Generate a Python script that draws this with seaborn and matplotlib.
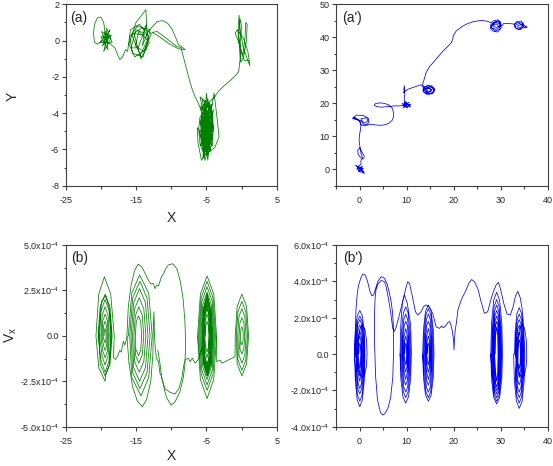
import numpy as np
import pandas as pd
import matplotlib
matplotlib.use("Agg")
import matplotlib.pyplot as plt
import seaborn as sns
from matplotlib.ticker import FixedLocator

# ---------------- data ----------------
# panel (a): X-Y trajectory, green
a_cluster1 = [(-19.5, 0.0), (-18.7, 0.6), (-19.8, -0.3), (-18.5, 0.3), (-20.0, 0.2), (-19.0, -0.5),
              (-19.2, 0.7), (-18.4, -0.1), (-20.1, -0.1), (-19.0, 0.4), (-19.6, -0.6), (-18.6, 0.1),
              (-19.9, 0.5), (-19.3, -0.2), (-18.9, 0.2), (-19.4, 0.5), (-19.7, 0.1), (-19.3, 0.2),
              (-19.6, 1.0), (-20.0, 1.3), (-20.5, 1.25), (-20.9, 0.9), (-21.05, 0.4), (-20.9, -0.1),
              (-20.5, -0.2), (-19.8, 0.0), (-19.1, -0.1), (-18.6, -0.2), (-18.0, -0.4), (-17.6, -0.8),
              (-17.3, -1.05), (-16.9, -0.9), (-16.5, -0.5), (-16.2, -0.6)]
a_cluster2 = [(-15.8, 0.6), (-14.5, 0.9), (-13.2, 0.2), (-14.0, -0.9), (-15.5, -0.7), (-15.9, 0.2),
              (-14.8, 0.8), (-13.0, 0.6), (-13.6, -0.5), (-15.2, -0.9), (-16.0, -0.2), (-15.0, 1.0),
              (-13.6, 1.7), (-13.4, 0.0), (-14.4, -0.8), (-15.6, 0.3), (-14.2, 0.7), (-12.8, 0.4),
              (-13.9, -0.6), (-15.1, -0.3), (-14.6, 0.5), (-13.1, -0.1), (-14.3, -1.0), (-15.3, 0.4),
              (-14.0, 0.3), (-13.5, 0.9), (-14.7, -0.4), (-15.7, -0.4), (-15.0, 0.6), (-13.8, 0.4),
              (-14.1, -0.3), (-13.3, 0.5)]
a_arc = [(-12.6, 0.8), (-12.0, 1.05), (-11.2, 1.1), (-10.5, 0.95), (-9.9, 0.65), (-9.4, 0.2),
         (-9.0, -0.2), (-8.0, -0.5), (-9.0, -0.45), (-10.4, -0.15), (-11.8, 0.25), (-12.7, 0.45),
         (-12.0, 0.5), (-10.6, 0.1), (-9.3, -0.3), (-8.6, -0.4), (-8.2, -1.0), (-7.8, -1.6),
         (-7.4, -2.2), (-7.0, -2.7), (-6.6, -3.1), (-6.2, -3.4), (-5.9, -3.7)]
a_cluster3 = [(-5.6, -4.0), (-4.6, -6.0), (-5.2, -3.3), (-4.3, -5.5), (-5.8, -5.8), (-4.8, -3.2),
              (-4.0, -4.8), (-5.5, -6.5), (-5.0, -3.6), (-4.4, -6.1), (-5.9, -4.5), (-4.2, -3.5),
              (-5.3, -6.2), (-4.7, -4.0), (-5.6, -5.2), (-4.1, -5.8), (-5.0, -2.9), (-5.4, -5.6),
              (-4.5, -4.3), (-5.8, -3.6), (-4.8, -6.6), (-4.3, -4.6), (-5.2, -4.2), (-4.9, -5.4),
              (-6.3, -4.8), (-6.2, -5.6), (-5.7, -6.6), (-5.2, -6.3), (-3.8, -5.9), (-3.2, -5.3),
              (-3.5, -4.2), (-3.9, -2.9), (-4.3, -3.8), (-5.9, -3.1), (-5.4, -4.0),
              (-5.9, -4.2), (-6.1, -4.9), (-5.9, -5.7), (-5.4, -6.2), (-4.8, -6.3), (-4.3, -5.8),
              (-4.0, -5.0), (-4.1, -4.1), (-4.5, -3.5), (-5.1, -3.3), (-5.6, -3.7), (-5.8, -4.5),
              (-5.6, -5.4), (-5.1, -5.9), (-4.5, -5.7), (-4.2, -4.9), (-4.3, -4.0), (-4.8, -3.6),
              (-5.4, -3.9), (-5.7, -4.7), (-5.5, -5.6), (-4.9, -6.1), (-4.4, -5.5), (-4.15, -4.6),
              (-4.4, -3.8), (-5.0, -3.5), (-5.5, -4.1), (-5.6, -5.0), (-5.2, -5.7), (-4.6, -5.8),
              (-4.2, -5.3), (-4.2, -4.4), (-4.7, -3.7), (-5.3, -3.7), (-5.7, -4.3), (-5.8, -5.2),
              (-5.3, -6.0), (-4.7, -6.0), (-4.3, -5.2),
              (-5.5, -4.6), (-4.6, -5.0), (-5.1, -3.8), (-4.2, -5.2), (-5.7, -5.4), (-4.9, -6.3),
              (-4.0, -3.8), (-5.3, -4.8), (-4.7, -5.7), (-5.6, -3.2), (-4.5, -3.7), (-5.0, -5.0),
              (-6.0, -5.0), (-5.2, -6.6), (-4.4, -5.4), (-5.3, -3.5), (-4.8, -4.5), (-5.4, -5.2),
              (-4.6, -4.2), (-5.1, -5.8), (-4.9, -3.9), (-5.2, -5.1), (-4.5, -4.9), (-5.5, -4.2),
              (-4.7, -5.3), (-5.0, -4.4), (-5.3, -5.5), (-4.6, -4.6), (-5.1, -4.0), (-4.8, -5.9),
              (-5.4, -4.4), (-4.4, -5.0), (-5.2, -3.9), (-4.9, -5.6), (-5.6, -4.8), (-4.3, -4.1),
              (-5.0, -6.0), (-4.6, -3.4), (-3.8, -3.1), (-3.3, -2.8)]
a_flower = [(-2.5, -2.5), (-1.6, -2.2), (-0.8, -1.9), (-0.4, -1.7), (-0.2, -1.0), (-0.3, -0.3),
            (-0.5, 0.5), (-0.35, 1.4), (-0.2, 0.6), (0.2, -0.3), (0.8, -1.0), (1.2, -1.4),
            (0.9, -0.6), (0.3, 0.1), (-0.6, 0.6), (-0.9, 0.4), (-0.4, -0.1), (0.2, -0.8),
            (0.5, 0.2), (0.6, 1.0), (0.8, 0.9), (0.7, 0.0), (0.3, -0.9), (-0.1, -1.2),
            (-0.2, -0.2), (0.0, 0.8), (-0.2, 1.2), (-0.4, 0.3), (-0.1, -0.6), (0.4, -1.1), (1.0, -1.1)]

# panel (a'): X-Y trajectory, blue
ap_start = [(0.0, 0.3), (-0.8, 1.2), (0.5, -0.5), (-0.5, 0.8), (0.8, 0.2), (-0.3, -0.6), (0.9, -1.1),
            (0.2, 0.6), (-0.6, 0.0), (0.6, 0.9), (0.0, -0.8), (-0.4, 0.4), (0.4, -0.2), (1.0, -1.2),
            (0.1, 0.2), (-0.2, 1.0), (0.3, 1.5), (0.3, 2.8), (0.9, 3.4), (1.0, 4.0), (0.5, 5.2),
            (0.0, 6.5), (-0.4, 5.6), (-0.3, 4.5), (0.2, 3.5), (0.6, 3.3), (0.3, 5.0), (0.0, 7.5),
            (-0.1, 9.0), (0.0, 10.5), (0.2, 12.0), (0.3, 13.5), (0.1, 14.5)]
ap_loops = [(-0.5, 15.0), (-1.4, 15.6), (-0.6, 16.4), (0.8, 16.3), (1.9, 15.4), (2.0, 14.2),
            (1.2, 13.1), (0.2, 13.5), (0.0, 14.8), (-1.0, 15.7), (-1.5, 15.4), (0.5, 14.6),
            (1.0, 14.0), (1.8, 14.5), (1.5, 15.6), (0.3, 15.3), (0.8, 13.6), (1.6, 13.4),
            (2.5, 13.6), (3.5, 13.4), (4.5, 13.3), (5.5, 13.5), (6.3, 14.0), (6.9, 14.8),
            (7.2, 15.8), (7.2, 17.3), (6.9, 18.6), (6.2, 19.5), (5.2, 20.0), (4.2, 20.1),
            (3.4, 19.9), (3.1, 19.4), (3.6, 19.0), (4.6, 18.8), (6.0, 19.0), (7.5, 19.2),
            (8.6, 19.2), (9.3, 19.4)]
ap_star = [(10.5, 20.3), (9.2, 18.6), (10.9, 19.6), (9.0, 19.9), (10.2, 18.5), (9.6, 20.6),
           (10.8, 18.9), (9.3, 19.2), (10.0, 20.1), (9.8, 19.0), (9.6, 19.8), (9.5, 21.0),
           (9.6, 22.6), (9.4, 24.3), (9.5, 25.3), (9.6, 23.8), (9.3, 23.2), (10.2, 24.2),
           (11.0, 24.6), (12.0, 25.1), (13.0, 25.6), (13.6, 25.2), (14.0, 24.4)]
ap_circle = [(15.2, 25.0), (15.9, 24.0), (15.4, 22.9), (14.3, 22.7), (13.5, 23.5), (13.6, 24.8),
             (14.6, 25.4), (15.6, 24.6), (15.8, 23.4), (14.8, 22.8), (13.8, 23.2), (13.4, 24.2),
             (14.2, 25.2), (15.3, 25.3), (16.0, 24.3), (15.5, 23.1), (14.4, 23.0), (13.7, 24.0),
             (14.3, 24.8), (15.2, 24.3), (14.9, 23.5), (14.1, 23.8), (14.6, 24.6), (15.4, 23.9),
             (14.5, 23.2), (13.8, 24.5), (13.4, 25.0)]
ap_rise = [(13.4, 25.8), (13.6, 26.7), (14.1, 29.2), (14.8, 31.0), (15.6, 32.3), (16.6, 34.0),
           (17.7, 35.8), (18.7, 37.2), (19.45, 38.3), (19.8, 39.5), (19.9, 40.4), (20.5, 41.9),
           (21.9, 43.4), (23.0, 44.2), (24.1, 44.7), (25.2, 45.0), (26.2, 45.1), (27.2, 44.8),
           (28.0, 44.4)]
ap_end = [(28.4, 45.0), (29.4, 45.3), (30.0, 44.5), (29.8, 43.2), (29.0, 42.4), (28.0, 42.8),
          (27.8, 43.8), (28.6, 44.6), (29.6, 44.2), (30.1, 43.0), (29.3, 41.6), (28.3, 41.9),
          (27.7, 42.8), (28.2, 43.9), (29.2, 44.0), (29.9, 42.5), (28.8, 41.9), (28.0, 43.0),
          (28.5, 44.4), (29.5, 45.0), (30.0, 43.6), (29.0, 43.0), (28.3, 43.5), (28.9, 44.8),
          (29.8, 44.6), (30.2, 43.4), (30.6, 44.2), (31.5, 44.2), (32.3, 44.1), (32.9, 44.0),
          (33.4, 44.8), (34.3, 44.9), (34.8, 44.1), (34.6, 43.0), (33.8, 42.4), (33.0, 42.9),
          (32.8, 43.9), (33.6, 44.5), (34.5, 44.3), (34.9, 43.4), (34.2, 42.3), (33.3, 42.6),
          (33.0, 43.6), (33.9, 44.2), (34.6, 43.6), (34.0, 42.8), (33.5, 43.3), (34.2, 43.9),
          (35.0, 43.6), (35.6, 43.0), (34.8, 42.8), (35.3, 43.3)]

# panel (b): X - Vx (Vx in units of 1e-4), green
b_well1 = [(-19.55, 0), (-19.5, 0.28), (-19.4, 0.4), (-19.3, 0.28), (-19.25, 0), (-19.3, -0.28), (-19.4, -0.4), (-19.5, -0.28),
           (-19.7, 0), (-19.61, 0.56), (-19.4, 0.8), (-19.19, 0.56), (-19.1, 0), (-19.19, -0.56), (-19.4, -0.8), (-19.61, -0.56),
           (-19.85, 0), (-19.72, 0.84), (-19.4, 1.2), (-19.08, 0.84), (-18.95, 0), (-19.08, -0.84), (-19.4, -1.2), (-19.72, -0.84),
           (-20.0, 0), (-19.82, 1.12), (-19.4, 1.6), (-18.98, 1.12), (-18.8, 0), (-18.98, -1.12), (-19.4, -1.6), (-19.82, -1.12),
           (-20.2, 0), (-19.96, 1.4), (-19.4, 2.0), (-18.84, 1.4), (-18.6, 0), (-18.84, -1.4), (-19.4, -2.0), (-19.96, -1.4),
           (-20.4, 0), (-20.1, 1.6), (-19.4, 2.3), (-18.7, 1.6), (-18.4, 0), (-18.7, -1.55), (-19.4, -2.2), (-20.1, -1.55),
           (-20.3, 0.2), (-19.9, 1.9), (-19.3, 2.2), (-18.8, 1.5), (-18.5, 0.1), (-18.8, -1.6), (-19.3, -2.1),
           (-19.4, -2.5), (-20.3, -1.75), (-20.7, 0), (-20.3, 2.3), (-19.5, 3.25), (-18.6, 2.3), (-18.1, 0),
           (-18.2, -1.2), (-17.9, -1.3), (-17.6, -1.1), (-17.3, -0.8), (-17.1, -0.9), (-16.8, -0.3),
           (-16.6, -0.5), (-16.3, -0.1)]
b_well2 = [(-16.1, 0), (-15.6, 2.35), (-14.5, 3.35), (-13.2, 2.35), (-12.7, 0), (-13.2, -2.3), (-14.3, -3.3), (-15.6, -2.3),
           (-15.9, 0), (-15.47, 2.1), (-14.45, 3.0), (-13.44, 2.1), (-13.0, 0), (-13.44, -2.03), (-14.45, -2.9), (-15.47, -2.03),
           (-15.7, 0), (-15.34, 1.82), (-14.5, 2.6), (-13.66, 1.82), (-13.3, 0), (-13.66, -1.75), (-14.5, -2.5), (-15.34, -1.75),
           (-15.5, 0), (-15.22, 1.47), (-14.55, 2.1), (-13.89, 1.47), (-13.6, 0), (-13.89, -1.4), (-14.55, -2.0), (-15.22, -1.4),
           (-15.3, 0), (-15.09, 1.12), (-14.6, 1.6), (-14.11, 1.12), (-13.9, 0), (-14.11, -1.05), (-14.6, -1.5), (-15.09, -1.05),
           (-15.1, 0), (-14.97, 0.77), (-14.65, 1.1), (-14.33, 0.77), (-14.2, 0), (-14.33, -0.77), (-14.65, -1.1), (-14.97, -0.77)]
b_big = [(-16.0, -1.5), (-16.3, 0.0), (-16.1, 1.6), (-15.7, 2.8), (-15.2, 3.6), (-14.7, 3.95), (-14.2, 3.8),
         (-13.7, 3.44), (-13.3, 3.1), (-12.9, 2.85), (-12.54, 2.89), (-12.3, 2.6), (-12.07, 2.8), (-11.8, 2.75),
         (-11.6, 3.0), (-11.37, 3.26), (-11.1, 3.4), (-10.9, 3.62), (-10.4, 3.9), (-9.8, 3.97), (-9.2, 3.7),
         (-8.7, 3.0), (-8.3, 2.0), (-8.05, 0.8), (-7.95, -0.4), (-8.05, -1.6), (-8.3, -2.34), (-8.75, -3.07),
         (-9.45, -3.63), (-10.0, -3.81), (-10.6, -3.44), (-10.9, -3.07), (-11.1, -2.7), (-11.35, -2.25),
         (-11.6, -2.07), (-11.8, -1.42), (-12.1, -1.24), (-12.3, -0.5), (-12.4, 0.23), (-12.45, 1.33),
         (-12.55, 0.5), (-12.6, -1.0), (-12.9, -2.5), (-13.5, -3.5), (-14.1, -3.9), (-14.8, -3.6),
         (-15.5, -2.8), (-16.0, -1.5)]
b_right = [(-11.9, -0.8), (-11.6, -1.5), (-11.35, -2.34), (-10.9, -2.9), (-10.2, -3.1), (-9.45, -3.2),
           (-8.9, -2.9), (-8.5, -2.34), (-8.2, -1.6), (-8.0, -1.3), (-7.57, -1.24), (-7.3, -1.42),
           (-7.0, -1.24), (-6.6, -1.5), (-6.2, -1.33), (-5.95, -1.06),
           (-5.15, 0), (-5.08, 0.56), (-4.9, 0.8), (-4.73, 0.56), (-4.65, 0), (-4.73, -0.63), (-4.9, -0.9), (-5.08, -0.63),
           (-5.25, 0), (-5.15, 0.84), (-4.9, 1.2), (-4.66, 0.84), (-4.55, 0), (-4.66, -0.84), (-4.9, -1.2), (-5.15, -0.84),
           (-5.35, 0), (-5.22, 1.05), (-4.9, 1.5), (-4.59, 1.05), (-4.45, 0), (-4.59, -1.12), (-4.9, -1.6), (-5.22, -1.12),
           (-5.32, 0), (-5.2, 1.19), (-4.92, 1.7), (-4.64, 1.19), (-4.52, 0), (-4.64, -1.19), (-4.92, -1.7), (-5.2, -1.19),
           (-5.45, 0), (-5.29, 1.26), (-4.9, 1.8), (-4.52, 1.26), (-4.35, 0), (-4.52, -1.26), (-4.9, -1.8), (-5.29, -1.26),
           (-5.4, 0), (-5.25, 1.61), (-4.9, 2.3), (-4.55, 1.61), (-4.4, 0), (-4.55, -1.33), (-4.9, -1.9), (-5.25, -1.33),
           (-5.55, 0.1), (-5.37, 1.47), (-4.95, 2.1), (-4.53, 1.47), (-4.35, 0.1), (-4.53, -1.4), (-4.95, -2.0), (-5.37, -1.4),
           (-5.55, 0), (-5.36, 1.4), (-4.9, 2.0), (-4.45, 1.4), (-4.25, 0), (-4.45, -1.47), (-4.9, -2.1), (-5.36, -1.47),
           (-5.55, -0.1), (-5.34, 1.33), (-4.85, 1.9), (-4.36, 1.33), (-4.15, -0.1), (-4.36, -1.54), (-4.85, -2.2), (-5.34, -1.54),
           (-5.65, 0), (-5.43, 1.54), (-4.9, 2.2), (-4.38, 1.54), (-4.15, 0), (-4.38, -1.54), (-4.9, -2.2), (-5.43, -1.54),
           (-5.8, 0), (-5.53, 1.68), (-4.9, 2.4), (-4.27, 1.68), (-4.0, 0), (-4.27, -1.68), (-4.9, -2.4), (-5.53, -1.68),
           (-5.95, 0), (-5.64, 1.89), (-4.9, 2.7), (-4.17, 1.89), (-3.85, 0), (-4.17, -1.89), (-4.9, -2.7), (-5.64, -1.89),
           (-6.1, 0), (-5.74, 2.1), (-4.9, 3.0), (-4.06, 2.1), (-3.7, 0), (-4.06, -2.1), (-4.9, -3.0), (-5.74, -2.1),
           (-6.25, 0), (-5.85, 2.3), (-4.9, 3.3), (-3.95, 2.3), (-3.55, 0), (-3.53, -1.42),
           (-3.06, -1.33), (-2.8, -1.5), (-2.35, -1.42), (-1.9, -1.33), (-1.4, -1.24), (-0.93, -1.15),
           (-0.9, 0), (-0.62, 1.61), (0.05, 2.3), (0.72, 1.61), (1.0, 0), (0.72, -1.54), (0.05, -2.2), (-0.62, -1.54),
           (-0.75, 0), (-0.51, 1.33), (0.05, 1.9), (0.61, 1.33), (0.85, 0), (0.61, -1.33), (0.05, -1.9), (-0.51, -1.33),
           (-0.55, 0), (-0.37, 1.05), (0.05, 1.5), (0.47, 1.05), (0.65, 0), (0.47, -1.05), (0.05, -1.5), (-0.37, -1.05),
           (-0.35, 0), (-0.23, 0.7), (0.05, 1.0), (0.33, 0.7), (0.45, 0), (0.33, -0.7), (0.05, -1.0), (-0.23, -0.7),
           (-0.15, 0), (-0.09, 0.35), (0.05, 0.5), (0.19, 0.35), (0.25, 0), (0.19, -0.35), (0.05, -0.5), (-0.09, -0.35)]
b_outer4 = [(-3.55, 0), (-3.95, -2.4), (-4.9, -3.45), (-5.85, -2.4), (-6.25, 0)]

# panel (b'): X - Vx (Vx in units of 1e-4), blue
bp_main = [(-0.15, 0), (-0.09, 0.42), (0.05, 0.6), (0.19, 0.42), (0.25, 0), (0.19, -0.56), (0.05, -0.8), (-0.09, -0.56),
           (-0.3, 0), (-0.2, 0.7), (0.05, 1.0), (0.3, 0.7), (0.4, 0), (0.3, -0.84), (0.05, -1.2), (-0.2, -0.84),
           (-0.45, 0), (-0.3, 0.91), (0.05, 1.3), (0.4, 0.91), (0.55, 0), (0.4, -1.05), (0.05, -1.5), (-0.3, -1.05),
           (-0.6, 0), (-0.52, 0.8), (-0.28, 1.39), (0.05, 1.6), (0.38, 1.39), (0.62, 0.8), (0.7, 0), (0.62, -0.95), (0.38, -1.65), (0.05, -1.9), (-0.28, -1.65), (-0.52, -0.95),
           (-0.75, 0), (-0.65, 0.95), (-0.35, 1.65), (0.05, 1.9), (0.45, 1.65), (0.75, 0.95), (0.85, 0), (0.75, -1.1), (0.45, -1.91), (0.05, -2.2), (-0.35, -1.91), (-0.65, -1.1),
           (-0.4, 0), (-0.27, 0.8), (0.1, 1.39), (0.6, 1.6), (1.1, 1.39), (1.47, 0.8), (1.6, 0), (1.47, -0.65), (1.1, -1.13), (0.6, -1.3), (0.1, -1.13), (-0.27, -0.65),
           (-0.9, 0), (-0.78, 1.05), (-0.43, 1.83), (0.05, 2.1), (0.53, 1.83), (0.88, 1.05), (1.0, 0), (0.88, -1.3), (0.53, -2.26), (0.05, -2.6), (-0.43, -2.26), (-0.78, -1.3),
           (-1.05, 0), (-0.91, 1.2), (-0.5, 2.09), (0.05, 2.4), (0.6, 2.09), (1.01, 1.2), (1.15, 0), (1.01, -1.45), (0.6, -2.52), (0.05, -2.9), (-0.5, -2.52), (-0.91, -1.45), (-1.05, 0),
           (-0.75, 2.5), (-0.5, 3.3), (-0.2, 3.8), (0.3, 4.2), (0.7, 4.4), (1.2, 4.35), (1.7, 4.0), (2.2, 3.45),
           (2.6, 3.2), (3.0, 3.25), (3.4, 3.6), (3.9, 4.0), (4.6, 4.26), (5.3, 4.17), (5.8, 3.9), (6.3, 3.4),
           (6.7, 2.9), (7.0, 2.3), (7.2, 1.4), (7.2, 0.0), (7.05, -1.3), (6.6, -2.4), (6.0, -3.0), (5.3, -3.3),
           (4.9, -3.36), (4.4, -3.2), (3.8, -2.5), (3.4, -1.2), (3.2, 0.5), (3.15, 2.0), (3.3, 3.1), (3.5, 3.55),
           (3.9, 3.85), (4.6, 4.05), (5.3, 3.98), (5.65, 3.7), (6.1, 3.1), (6.6, 2.3), (7.05, 1.4), (7.4, 1.25),
           (7.8, 1.5), (8.5, 2.2), (9.2, 2.95), (9.8, 3.6), (10.2, 3.98), (10.6, 3.89), (11.15, 3.25), (11.86, 2.33),
           (12.36, 2.15), (13.07, 2.33), (13.57, 2.6), (14.1, 2.7), (14.7, 2.6), (15.2, 2.42), (15.55, 2.2),
           (15.9, 1.87), (16.26, 1.5), (16.97, 1.41), (17.4, 1.55), (17.7, 1.45), (18.1, 1.5), (18.4, 1.6),
           (18.8, 1.75), (19.1, 1.78), (19.4, 1.6), (19.66, 1.32), (19.95, 0.77), (20.05, 0.22), (20.15, 0.8),
           (20.3, 1.3), (20.6, 1.8), (20.87, 2.42), (21.57, 2.97), (22.6, 3.52), (23.2, 3.9), (23.8, 4.1),
           (24.4, 3.98), (25.1, 3.6), (25.8, 2.88), (26.5, 2.24), (27.2, 2.33), (27.95, 3.06), (28.5, 3.5),
           (29.0, 3.8), (29.5, 3.95), (30.0, 3.5), (30.6, 2.8), (31.3, 2.2), (32.0, 2.15), (32.6, 2.6),
           (33.1, 3.2), (33.6, 3.45), (34.1, 3.1), (34.5, 2.5), (34.8, 1.6), (35.0, 0.5), (35.1, 0),
           (34.94, -1.5), (34.5, -2.6), (33.9, -2.99), (33.3, -2.6), (32.86, -1.5), (32.7, 0),
           (32.9, 0), (33.03, 1.28), (33.4, 2.22), (33.9, 2.55), (34.4, 2.22), (34.77, 1.28), (34.9, 0), (34.77, -1.35), (34.4, -2.35), (33.9, -2.7), (33.4, -2.35), (33.03, -1.35),
           (33.5, 0), (33.63, 0.83), (34.0, 1.44), (34.5, 1.65), (35.0, 1.44), (35.37, 0.83), (35.5, 0), (35.37, -0.65), (35.0, -1.13), (34.5, -1.3), (34.0, -1.13), (33.63, -0.65),
           (33.05, 0), (33.16, 1.1), (33.47, 1.91), (33.9, 2.2), (34.33, 1.91), (34.64, 1.1), (34.75, 0), (34.64, -1.2), (34.33, -2.09), (33.9, -2.4), (33.47, -2.09), (33.16, -1.2),
           (33.2, 0), (33.29, 0.95), (33.55, 1.65), (33.9, 1.9), (34.25, 1.65), (34.51, 0.95), (34.6, 0), (34.51, -1.05), (34.25, -1.83), (33.9, -2.1), (33.55, -1.83), (33.29, -1.05),
           (33.35, 0), (33.42, 0.8), (33.62, 1.39), (33.9, 1.6), (34.18, 1.39), (34.38, 0.8), (34.45, 0), (34.38, -0.85), (34.18, -1.48), (33.9, -1.7), (33.62, -1.48), (33.42, -0.85),
           (33.5, 0), (33.62, 0.84), (33.9, 1.2), (34.18, 0.84), (34.3, 0), (34.18, -0.91), (33.9, -1.3), (33.62, -0.91),
           (33.65, 0), (33.73, 0.56), (33.9, 0.8), (34.08, 0.56), (34.15, 0), (34.08, -0.56), (33.9, -0.8), (33.73, -0.56)]
bp_well2 = [(9.6, 0), (9.66, 0.42), (9.8, 0.6), (9.94, 0.42), (10.0, 0), (9.94, -0.42), (9.8, -0.6), (9.66, -0.42),
            (9.45, 0), (9.56, 0.7), (9.8, 1.0), (10.05, 0.7), (10.15, 0), (10.05, -0.7), (9.8, -1.0), (9.56, -0.7),
            (9.3, 0), (9.45, 0.98), (9.8, 1.4), (10.15, 0.98), (10.3, 0), (10.15, -0.98), (9.8, -1.4), (9.45, -0.98),
            (9.15, 0), (9.23, 0.9), (9.47, 1.57), (9.8, 1.8), (10.13, 1.57), (10.37, 0.9), (10.45, 0), (10.37, -0.85), (10.13, -1.48), (9.8, -1.7), (9.47, -1.48), (9.23, -0.85),
            (9.0, 0), (9.1, 1.1), (9.4, 1.91), (9.8, 2.2), (10.2, 1.91), (10.5, 1.1), (10.6, 0), (10.5, -1.05), (10.2, -1.83), (9.8, -2.1), (9.4, -1.83), (9.1, -1.05),
            (8.8, 0), (8.93, 1.3), (9.3, 2.26), (9.8, 2.6), (10.3, 2.26), (10.67, 1.3), (10.8, 0), (10.67, -1.2), (10.3, -2.09), (9.8, -2.4), (9.3, -2.09), (8.93, -1.2),
            (8.6, 0), (8.76, 1.63), (9.1, 2.83), (9.5, 3.25), (10.1, 2.83), (10.84, 1.63), (11.0, 0), (10.84, -1.35), (10.4, -2.35), (9.8, -2.7), (9.2, -2.35), (8.76, -1.35), (8.6, 0)]
bp_well3 = [(14.4, 0), (14.46, 0.42), (14.6, 0.6), (14.74, 0.42), (14.8, 0), (14.74, -0.42), (14.6, -0.6), (14.46, -0.42),
            (14.25, 0), (14.36, 0.7), (14.6, 1.0), (14.85, 0.7), (14.95, 0), (14.85, -0.7), (14.6, -1.0), (14.36, -0.7),
            (14.1, 0), (14.25, 0.98), (14.6, 1.4), (14.95, 0.98), (15.1, 0), (14.95, -0.98), (14.6, -1.4), (14.25, -0.98),
            (13.95, 0), (14.03, 0.9), (14.27, 1.57), (14.6, 1.8), (14.93, 1.57), (15.17, 0.9), (15.25, 0), (15.17, -0.85), (14.93, -1.48), (14.6, -1.7), (14.27, -1.48), (14.03, -0.85),
            (13.8, 0), (13.9, 1.1), (14.2, 1.91), (14.6, 2.2), (15.0, 1.91), (15.3, 1.1), (15.4, 0), (15.3, -1.05), (15.0, -1.83), (14.6, -2.1), (14.2, -1.83), (13.9, -1.05),
            (13.6, 0), (13.73, 1.25), (14.1, 2.18), (14.6, 2.5), (15.1, 2.18), (15.47, 1.25), (15.6, 0), (15.47, -1.2), (15.1, -2.09), (14.6, -2.4), (14.1, -2.09), (13.73, -1.2),
            (13.4, 0), (13.56, 1.35), (14.0, 2.35), (14.6, 2.7), (15.2, 2.35), (15.64, 1.35), (15.8, 0), (15.64, -1.3), (15.2, -2.26), (14.6, -2.6), (14.0, -2.26), (13.56, -1.3), (13.4, 0)]
bp_well4 = [(28.8, 0), (28.89, 1.05), (29.1, 1.5), (29.31, 1.05), (29.4, 0), (29.31, -1.05), (29.1, -1.5), (28.89, -1.05),
            (28.65, 0), (28.71, 0.9), (28.87, 1.57), (29.1, 1.8), (29.33, 1.57), (29.49, 0.9), (29.55, 0), (29.49, -0.9), (29.33, -1.57), (29.1, -1.8), (28.87, -1.57), (28.71, -0.9),
            (28.5, 0), (28.58, 1.05), (28.8, 1.83), (29.1, 2.1), (29.4, 1.83), (29.62, 1.05), (29.7, 0), (29.62, -1.0), (29.4, -1.74), (29.1, -2.0), (28.8, -1.74), (28.58, -1.0),
            (28.35, 0), (28.45, 1.2), (28.72, 2.09), (29.1, 2.4), (29.48, 2.09), (29.75, 1.2), (29.85, 0), (29.75, -1.1), (29.48, -1.91), (29.1, -2.2), (28.72, -1.91), (28.45, -1.1),
            (28.2, 0), (28.32, 1.35), (28.65, 2.35), (29.1, 2.7), (29.55, 2.35), (29.88, 1.35), (30.0, 0), (29.88, -1.2), (29.55, -2.09), (29.1, -2.4), (28.65, -2.09), (28.32, -1.2),
            (28.05, 0), (28.19, 1.5), (28.57, 2.61), (29.1, 3.0), (29.63, 2.61), (30.01, 1.5), (30.15, 0), (30.01, -1.3), (29.63, -2.26), (29.1, -2.6), (28.57, -2.26), (28.19, -1.3),
            (27.85, 0), (28.01, 1.7), (28.47, 2.96), (29.1, 3.4), (29.73, 2.96), (30.19, 1.7), (30.35, 0), (30.19, -1.38), (29.73, -2.39), (29.1, -2.75), (28.47, -2.39), (28.01, -1.38), (27.85, 0)]

VX_UNIT = 1e-4

a_ticks_x = [-25, -15, -5, 5]
a_minor_x = [-20, -10, 0]
a_ticks_y = [-8, -6, -4, -2, 0, 2]
a_minor_y = [-7, -5, -3, -1, 1]
ap_ticks_x = [0, 10, 20, 30, 40]
ap_minor_x = [-5, 5, 15, 25, 35]
ap_ticks_y = [0, 10, 20, 30, 40, 50]
ap_minor_y = [-5, 5, 15, 25, 35, 45]
b_ticks_y = [-5.0, -2.5, 0.0, 2.5, 5.0]
b_minor_y = [-3.75, -1.25, 1.25, 3.75]
b_tick_labels = ["-5.0x10$^{-4}$", "-2.5x10$^{-4}$", "0.0", "2.5x10$^{-4}$", "5.0x10$^{-4}$"]
bp_ticks_y = [-4.0, -2.0, 0.0, 2.0, 4.0, 6.0]
bp_minor_y = [-3.0, -1.0, 1.0, 3.0, 5.0]
bp_tick_labels = ["-4.0x10$^{-4}$", "-2.0x10$^{-4}$", "0.0", "2.0x10$^{-4}$", "4.0x10$^{-4}$", "6.0x10$^{-4}$"]


def frame(segments, yscale=1.0):
    rows = []
    for i, seg in enumerate(segments):
        for x, y in seg:
            rows.append((i, x, y * yscale))
    return pd.DataFrame(rows, columns=["seg", "x", "y"])


# ---------------- style ----------------
sns.set_theme(style="ticks")
plt.rcParams["font.family"] = ["Liberation Sans", "DejaVu Sans"]
plt.rcParams["mathtext.default"] = "regular"
plt.rcParams["axes.unicode_minus"] = False

W, H = 553, 466
fig = plt.figure(figsize=(W / 100, H / 100), dpi=100)


def add_ax(l, t, r, b):
    return fig.add_axes([l / W, 1 - b / H, (r - l) / W, (b - t) / H])


ax_a = add_ax(65.7, 4.3, 276.7, 185.7)
ax_ap = add_ax(336.0, 4.3, 548.0, 185.7)
ax_b = add_ax(65.7, 245.0, 276.7, 426.7)
ax_bp = add_ax(336.0, 245.0, 548.0, 426.7)

GREEN = "#008000"
BLUE = "#0000FF"
LW = 0.55

sns.lineplot(data=frame([a_cluster1 + a_cluster2 + a_arc + a_cluster3 + a_flower]), x="x", y="y",
             units="seg", estimator=None, sort=False, color=GREEN, linewidth=LW, ax=ax_a, legend=False)
sns.lineplot(data=frame([ap_start + ap_loops + ap_star + ap_circle + ap_rise + ap_end]), x="x", y="y",
             units="seg", estimator=None, sort=False, color=BLUE, linewidth=LW, ax=ax_ap, legend=False)
sns.lineplot(data=frame([b_well1 + b_well2, b_big, b_right, b_outer4], VX_UNIT), x="x", y="y",
             units="seg", estimator=None, sort=False, color=GREEN, linewidth=LW, ax=ax_b, legend=False)
sns.lineplot(data=frame([bp_main, bp_well2, bp_well3, bp_well4], VX_UNIT), x="x", y="y",
             units="seg", estimator=None, sort=False, color=BLUE, linewidth=LW, ax=ax_bp, legend=False)


def style_axis(ax, xlim, ylim, xt, xm, yt, ym, ylabels=None):
    ax.set_xlim(*xlim)
    ax.set_ylim(*ylim)
    ax.xaxis.set_major_locator(FixedLocator(xt))
    ax.xaxis.set_minor_locator(FixedLocator(xm))
    ax.yaxis.set_major_locator(FixedLocator(yt))
    ax.yaxis.set_minor_locator(FixedLocator(ym))
    ax.set_xticklabels([str(v) for v in xt])
    if ylabels is None:
        ax.set_yticklabels([str(v) for v in yt])
    else:
        ax.set_yticklabels(ylabels)
    ax.set_xlabel("")
    ax.set_ylabel("")
    for sp in ax.spines.values():
        sp.set_visible(True)
        sp.set_color("#404040")
        sp.set_linewidth(0.8)
    ax.tick_params(which="major", direction="out", length=3.2, width=0.8, color="#404040",
                   labelsize=6.5, pad=1.5, top=False, right=False)
    ax.tick_params(which="minor", direction="out", length=1.8, width=0.8, color="#404040",
                   top=False, right=False)
    ax.tick_params(axis="x", which="major", pad=4.5)
    ax.set_facecolor("white")


style_axis(ax_a, (-25, 5), (-8, 2), a_ticks_x, a_minor_x, a_ticks_y, a_minor_y)
style_axis(ax_ap, (-5, 40), (-5, 50), ap_ticks_x, ap_minor_x, ap_ticks_y, ap_minor_y)
style_axis(ax_b, (-25, 5), (-5 * VX_UNIT, 5 * VX_UNIT), a_ticks_x, a_minor_x,
           [v * VX_UNIT for v in b_ticks_y], [v * VX_UNIT for v in b_minor_y], b_tick_labels)
style_axis(ax_bp, (-5, 40), (-4 * VX_UNIT, 6 * VX_UNIT), ap_ticks_x, ap_minor_x,
           [v * VX_UNIT for v in bp_ticks_y], [v * VX_UNIT for v in bp_minor_y], bp_tick_labels)

for ax, lab, dx in [(ax_a, "(a)", 0.022), (ax_ap, "(a')", 0.03), (ax_b, "(b)", 0.028), (ax_bp, "(b')", 0.033)]:
    ax.text(dx, 0.965, lab, transform=ax.transAxes, ha="left", va="top", fontsize=10)

fig.text(13 / W, 1 - 96 / H, "Y", rotation=90, ha="center", va="center", fontsize=10)
fig.text(171 / W, 1 - 218 / H, "X", ha="center", va="center", fontsize=10)
fig.text(171 / W, 1 - 456 / H, "X", ha="center", va="center", fontsize=10)
fig.text(11 / W, 1 - 335 / H, "V$_x$", rotation=90, ha="center", va="center", fontsize=10)

fig.savefig("out.png", dpi=100, facecolor="white")
